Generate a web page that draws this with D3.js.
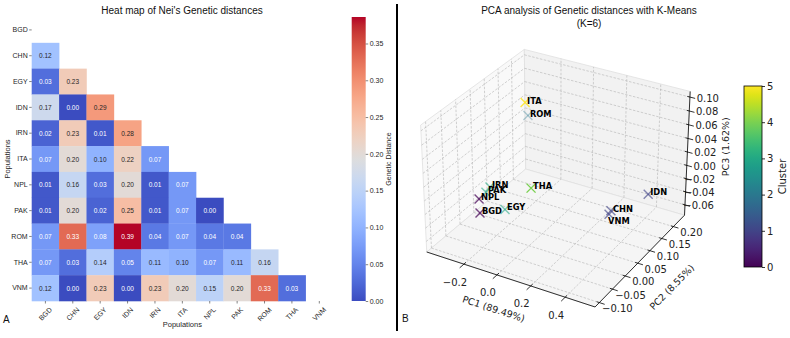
<!DOCTYPE html>
<html>
<head>
<meta charset="utf-8">
<script src="https://cdn.jsdelivr.net/npm/d3@7"></script>
<style>
  body { margin: 0; background: #fff; }
  svg { display: block; }
</style>
</head>
<body>
<svg id="chart" width="790" height="338"></svg>
<script>
// ---------------- data ----------------
const populations = ["BGD", "CHN", "EGY", "IDN", "IRN", "ITA", "NPL", "PAK", "ROM", "THA", "VNM"];

// lower triangle of Nei's distance matrix (row i holds columns 0..i-1)
const neiDistances = [
  [],
  [0.12],
  [0.03, 0.23],
  [0.17, 0.00, 0.29],
  [0.02, 0.23, 0.01, 0.28],
  [0.07, 0.20, 0.10, 0.22, 0.07],
  [0.01, 0.16, 0.03, 0.20, 0.01, 0.07],
  [0.01, 0.20, 0.02, 0.25, 0.01, 0.07, 0.00],
  [0.07, 0.33, 0.08, 0.386, 0.04, 0.07, 0.04, 0.04],
  [0.07, 0.03, 0.14, 0.05, 0.11, 0.10, 0.07, 0.11, 0.16],
  [0.12, 0.00, 0.23, 0.00, 0.23, 0.20, 0.15, 0.20, 0.33, 0.03]
];
const distTicks = [0, 0.05, 0.10, 0.15, 0.20, 0.25, 0.30, 0.35];

// PCA coordinates (same order as populations) and k-means cluster
const pc1 = [-0.227, 0.342, -0.158, 0.487, -0.255, -0.129, -0.250, -0.267, -0.234, 0.044, 0.337];
const pc2 = [-0.041, 0.096, 0.008, 0.146, 0.012, 0.069, -0.030, 0.004, 0.142, -0.017, 0.092];
const pc3 = [-0.029, -0.032, -0.036, -0.014, -0.011, 0.102, -0.014, -0.017, 0.054, 0.019, -0.036];
const clusters = [0, 1, 3, 1, 3, 5, 0, 3, 2, 4, 1];

const pc1Lim = [-0.43, 0.57], pc2Lim = [-0.116, 0.249], pc3Lim = [-0.076, 0.108];
const pc1Ticks = [-0.2, 0.0, 0.2, 0.4];
const pc2Ticks = [-0.10, -0.05, 0.00, 0.05, 0.10, 0.15, 0.20];
const pc3Ticks = [-0.06, -0.04, -0.02, 0.00, 0.02, 0.04, 0.06, 0.08, 0.10];
const clusterTicks = [0, 1, 2, 3, 4, 5];

// matplotlib "coolwarm" reference colours
const coolwarmStops = ["#3b4cc0","#445acc","#4d68d7","#5775e1","#6282ea","#6c8ef1","#779af7","#82a5fb",
  "#8db0fe","#98b9ff","#a3c2ff","#aec9fd","#b8d0f9","#c2d5f4","#ccd9ee","#d5dbe6","#dddddd",
  "#e5d8d1","#ecd3c5","#f1ccb9","#f5c4ad","#f7bba0","#f7b194","#f7a687","#f49a7b","#f18d6f",
  "#ec7f63","#e57058","#de604d","#d55042","#cb3e38","#c0282f","#b40426"];

// ---------------- setup ----------------
const SANS = "'Liberation Sans', Arial, sans-serif";
const MPL = "'DejaVu Sans', sans-serif";
const svg = d3.select('#chart');
svg.append('rect').attr('width', 790).attr('height', 338).attr('fill', '#fff');
const defs = svg.append('defs');

// ================= Panel A : heat map =================
const hm = {left: 31.7, right: 333, top: 17, bottom: 301};
const xBand = d3.scaleBand().domain(populations).range([hm.left, hm.right]);
const yBand = d3.scaleBand().domain(populations).range([hm.top, hm.bottom]);
const vmax = d3.max(neiDistances.flat());
const coolwarm = d3.scaleLinear()
    .domain(coolwarmStops.map((c, i) => i / (coolwarmStops.length - 1) * vmax))
    .range(coolwarmStops)
    .interpolate(d3.interpolateRgb)
    .clamp(true);

function luminance(c) {
  const rgb = d3.rgb(c);
  const f = x => { x /= 255; return x <= 0.03928 ? x / 12.92 : Math.pow((x + 0.055) / 1.055, 2.4); };
  return 0.2126 * f(rgb.r) + 0.7152 * f(rgb.g) + 0.0722 * f(rgb.b);
}

const cells = [];
neiDistances.forEach((row, i) => row.forEach((v, j) => cells.push({row: populations[i], col: populations[j], v})));

const heat = svg.append('g');
heat.selectAll('rect.cell')
  .data(cells)
  .join('rect')
    .attr('class', 'cell')
    .attr('x', d => xBand(d.col))
    .attr('y', d => yBand(d.row))
    .attr('width', xBand.bandwidth() + 0.3)
    .attr('height', yBand.bandwidth() + 0.3)
    .attr('fill', d => coolwarm(d.v));

heat.selectAll('text.annot')
  .data(cells)
  .join('text')
    .attr('class', 'annot')
    .attr('x', d => xBand(d.col) + xBand.bandwidth() / 2)
    .attr('y', d => yBand(d.row) + yBand.bandwidth() / 2)
    .attr('text-anchor', 'middle')
    .attr('dominant-baseline', 'central')
    .attr('font-family', SANS)
    .attr('font-size', 6.5)
    .attr('fill', d => luminance(coolwarm(d.v)) > 0.408 ? '#262626' : '#fff')
    .text(d => d.v.toFixed(2));

// y axis
const yAxisG = svg.append('g')
    .attr('transform', `translate(${hm.left},0)`)
    .call(d3.axisLeft(yBand).tickSize(2.5).tickPadding(1.5));
yAxisG.select('.domain').remove();
yAxisG.selectAll('line').attr('stroke', '#333').attr('stroke-width', 0.6);
yAxisG.selectAll('text').attr('font-family', SANS).attr('font-size', 7).attr('fill', '#262626');

// x axis with 45° labels
const xAxisG = svg.append('g')
    .attr('transform', `translate(0,${hm.bottom})`)
    .call(d3.axisBottom(xBand).tickSize(2.5));
xAxisG.select('.domain').remove();
xAxisG.selectAll('line').attr('stroke', '#333').attr('stroke-width', 0.6);
xAxisG.selectAll('text')
    .attr('font-family', SANS).attr('font-size', 7).attr('fill', '#262626')
    .attr('y', null).attr('dy', null)
    .attr('text-anchor', 'middle')
    .attr('dominant-baseline', 'central')
    .attr('transform', function() {
      const w = this.getComputedTextLength();
      return `translate(0,${5 + (w + 7) * 0.3536}) rotate(-45)`;
    });

svg.append('text')
    .attr('x', (hm.left + hm.right) / 2).attr('y', 327)
    .attr('text-anchor', 'middle')
    .attr('font-family', SANS).attr('font-size', 7.5).attr('fill', '#262626')
    .text('Populations');
svg.append('text')
    .attr('transform', `translate(10,${(hm.top + hm.bottom) / 2}) rotate(-90)`)
    .attr('text-anchor', 'middle')
    .attr('font-family', SANS).attr('font-size', 7.5).attr('fill', '#262626')
    .text('Populations');

svg.append('text')
    .attr('x', 182).attr('y', 14)
    .attr('text-anchor', 'middle')
    .attr('font-family', SANS).attr('font-size', 10).attr('fill', '#111')
    .text("Heat map of Nei's Genetic distances");

// colour bar
const cb = {x: 351.7, w: 14};
const cbScale = d3.scaleLinear().domain([0, vmax]).range([hm.bottom, hm.top]);
const cwGrad = defs.append('linearGradient').attr('id', 'cwGrad')
    .attr('x1', 0).attr('y1', 1).attr('x2', 0).attr('y2', 0);
coolwarmStops.forEach((c, i) => cwGrad.append('stop')
    .attr('offset', i / (coolwarmStops.length - 1)).attr('stop-color', c));
svg.append('rect')
    .attr('x', cb.x).attr('y', hm.top)
    .attr('width', cb.w).attr('height', hm.bottom - hm.top)
    .attr('fill', 'url(#cwGrad)');
const cbAxis = svg.append('g')
    .attr('transform', `translate(${cb.x + cb.w},0)`)
    .call(d3.axisRight(cbScale).tickValues(distTicks).tickFormat(d3.format('.2f')).tickSize(2.5).tickPadding(1.5));
cbAxis.select('.domain').remove();
cbAxis.selectAll('line').attr('stroke', '#333').attr('stroke-width', 0.6);
cbAxis.selectAll('text').attr('font-family', SANS).attr('font-size', 7).attr('fill', '#262626');
svg.append('text')
    .attr('transform', `translate(391,${(hm.top + hm.bottom) / 2}) rotate(-90)`)
    .attr('text-anchor', 'middle')
    .attr('font-family', SANS).attr('font-size', 7).attr('fill', '#262626')
    .text('Genetic Distance');

// panel letters and separator
svg.append('text').attr('x', 3).attr('y', 323)
    .attr('font-family', SANS).attr('font-size', 10).attr('fill', '#111').text('A');
svg.append('text').attr('x', 402).attr('y', 322)
    .attr('font-family', SANS).attr('font-size', 10).attr('fill', '#111').text('B');
svg.append('line').attr('x1', 397).attr('x2', 397).attr('y1', 4).attr('y2', 331)
    .attr('stroke', '#000').attr('stroke-width', 2);

// ================= Panel B : 3-D PCA scatter =================
const view = {elev: 30, azim: -60, dist: 10, K: 1620, cx: 558, cy: 172};
const boxAspect = [4, 4, 3].map(v => v * 0.2976);
const xs3 = d3.scaleLinear().domain(pc1Lim).range([-boxAspect[0] / 2, boxAspect[0] / 2]);
const ys3 = d3.scaleLinear().domain(pc2Lim).range([-boxAspect[1] / 2, boxAspect[1] / 2]);
const zs3 = d3.scaleLinear().domain(pc3Lim).range([-boxAspect[2] / 2, boxAspect[2] / 2]);

const el = view.elev * Math.PI / 180, az = view.azim * Math.PI / 180;
const wv = [Math.cos(el) * Math.cos(az), Math.cos(el) * Math.sin(az), Math.sin(el)];
const uv = [-Math.sin(az), Math.cos(az), 0];
const vv = [-Math.sin(el) * Math.cos(az), -Math.sin(el) * Math.sin(az), Math.cos(el)];
const dot = (a, b) => a[0] * b[0] + a[1] * b[1] + a[2] * b[2];

function project(x, y, z) {
  const p = [xs3(x), ys3(y), zs3(z)];
  const D = view.dist - dot(p, wv);
  return [view.cx + view.K * dot(p, uv) / D, view.cy - view.K * dot(p, vv) / D, D];
}
const line3 = d3.line();
const path3 = pts => line3(pts.map(p => project(...p)));

const [x0, x1] = pc1Lim, [y0, y1] = pc2Lim, [z0, z1] = pc3Lim;
const scatter = svg.append('g');

// panes
const panes = [
  {pts: [[x0, y0, z0], [x0, y1, z0], [x0, y1, z1], [x0, y0, z1]], fill: '#f9f9f9'},
  {pts: [[x0, y1, z0], [x1, y1, z0], [x1, y1, z1], [x0, y1, z1]], fill: '#f2f2f2'},
  {pts: [[x0, y0, z0], [x1, y0, z0], [x1, y1, z0], [x0, y1, z0]], fill: '#f5f5f5'}
];
scatter.selectAll('path.pane')
  .data(panes)
  .join('path')
    .attr('class', 'pane')
    .attr('d', d => path3(d.pts) + 'Z')
    .attr('fill', d => d.fill)
    .attr('stroke', '#e0e0e0')
    .attr('stroke-width', 0.8);

// grid lines
const grid = [];
pc1Ticks.forEach(t => {
  grid.push([[t, y1, z0], [t, y1, z1]]);
  grid.push([[t, y0, z0], [t, y1, z0]]);
});
pc2Ticks.forEach(t => {
  grid.push([[x0, t, z0], [x0, t, z1]]);
  grid.push([[x0, t, z0], [x1, t, z0]]);
});
pc3Ticks.forEach(t => {
  grid.push([[x0, y0, t], [x0, y1, t]]);
  grid.push([[x0, y1, t], [x1, y1, t]]);
});
scatter.selectAll('path.grid')
  .data(grid)
  .join('path')
    .attr('class', 'grid')
    .attr('d', path3)
    .attr('fill', 'none')
    .attr('stroke', '#b8b8b8')
    .attr('stroke-width', 0.65)
    .attr('stroke-dasharray', '2.5,1.5');

// axis lines
const axisLines = [
  [[x0, y0, z0], [x1, y0, z0]],
  [[x1, y0, z0], [x1, y1, z0]],
  [[x1, y1, z0], [x1, y1, z1]]
];
scatter.selectAll('path.axis3')
  .data(axisLines)
  .join('path')
    .attr('class', 'axis3')
    .attr('d', path3)
    .attr('stroke', '#000')
    .attr('stroke-width', 0.8);

// ticks
const xr = x1 - x0, yr = y1 - y0;
const ticks3 = [];
pc1Ticks.forEach(t => ticks3.push([[t, y0 + 0.02 * yr, z0], [t, y0 - 0.04 * yr, z0]]));
pc2Ticks.forEach(t => ticks3.push([[x1 - 0.015 * xr, t, z0], [x1 + 0.03 * xr, t, z0]]));
pc3Ticks.forEach(t => ticks3.push([[x1 - 0.015 * xr, y1, t], [x1 + 0.03 * xr, y1, t]]));
scatter.selectAll('path.tick3')
  .data(ticks3)
  .join('path')
    .attr('class', 'tick3')
    .attr('d', path3)
    .attr('stroke', '#000')
    .attr('stroke-width', 0.8);

// tick labels
const fmt1 = d3.format('.1f'), fmt2 = d3.format('.2f');
scatter.selectAll('text.xtick')
  .data(pc1Ticks)
  .join('text')
    .attr('class', 'xtick')
    .attr('x', d => project(d, y0, z0)[0] - 9)
    .attr('y', d => project(d, y0, z0)[1] + 18)
    .attr('text-anchor', 'middle').attr('dominant-baseline', 'central')
    .attr('font-family', MPL).attr('font-size', 10).attr('fill', '#222')
    .text(fmt1);
scatter.selectAll('text.ytick')
  .data(pc2Ticks)
  .join('text')
    .attr('class', 'ytick')
    .attr('x', d => project(x1, d, z0)[0] + 18)
    .attr('y', d => project(x1, d, z0)[1] + 6)
    .attr('text-anchor', 'middle').attr('dominant-baseline', 'central')
    .attr('font-family', MPL).attr('font-size', 10).attr('fill', '#222')
    .text(fmt2);
scatter.selectAll('text.ztick')
  .data(pc3Ticks)
  .join('text')
    .attr('class', 'ztick')
    .attr('x', d => project(x1, y1, d)[0] + 29)
    .attr('y', d => project(x1, y1, d)[1] + 1)
    .attr('text-anchor', 'end').attr('dominant-baseline', 'central')
    .attr('font-family', MPL).attr('font-size', 10).attr('fill', '#222')
    .text(fmt2);

// axis titles
const pxMid = project((x0 + x1) / 2, y0, z0);
scatter.append('text')
    .attr('transform', `translate(${pxMid[0] - 15},${pxMid[1] + 30}) rotate(18)`)
    .attr('text-anchor', 'middle').attr('dominant-baseline', 'central')
    .attr('font-family', MPL).attr('font-size', 9.5).attr('fill', '#222')
    .text('PC1 (89.49%)');
const pyMid = project(x1, (y0 + y1) / 2, z0);
scatter.append('text')
    .attr('transform', `translate(${pyMid[0] + 30},${pyMid[1] + 28}) rotate(-45.6)`)
    .attr('text-anchor', 'middle').attr('dominant-baseline', 'central')
    .attr('font-family', MPL).attr('font-size', 9.5).attr('fill', '#222')
    .text('PC2 (8.55%)');
const pzMid = project(x1, y1, (z0 + z1) / 2);
scatter.append('text')
    .attr('transform', `translate(${pzMid[0] + 38},${pzMid[1] - 8}) rotate(-90)`)
    .attr('text-anchor', 'middle').attr('dominant-baseline', 'central')
    .attr('font-family', MPL).attr('font-size', 9.5).attr('fill', '#222')
    .text('PC3 (1.62%)');

// points with matplotlib style depth shading
const points = populations.map((name, i) => {
  const pr = project(pc1[i], pc2[i], pc3[i]);
  return {name, cluster: clusters[i], sx: pr[0], sy: pr[1], depth: pr[2]};
});
const depthExtent = d3.extent(points, d => d.depth);
const shade = d3.scaleLinear().domain(depthExtent).range([1, 0.35]);
const clusterColor = c => d3.interpolateViridis(c / 5);

const marks = scatter.selectAll('g.pt')
  .data(points.slice().sort((a, b) => b.depth - a.depth))
  .join('g')
    .attr('class', 'pt')
    .attr('transform', d => `translate(${d.sx},${d.sy})`)
    .attr('stroke', d => clusterColor(d.cluster))
    .attr('stroke-opacity', d => shade(d.depth))
    .attr('stroke-width', 1.4);
marks.append('line').attr('x1', -4.5).attr('y1', -4.5).attr('x2', 4.5).attr('y2', 4.5);
marks.append('line').attr('x1', -4.5).attr('y1', 4.5).attr('x2', 4.5).attr('y2', -4.5);

const labelNudge = {VNM: [-3, 9]};
scatter.selectAll('text.plabel')
  .data(points)
  .join('text')
    .attr('class', 'plabel')
    .attr('x', d => d.sx + 2 + (labelNudge[d.name] ? labelNudge[d.name][0] : 0))
    .attr('y', d => d.sy + 1 + (labelNudge[d.name] ? labelNudge[d.name][1] : 0))
    .attr('font-family', MPL).attr('font-size', 8.3).attr('font-weight', 'bold').attr('fill', '#000')
    .text(d => d.name);

// titles
svg.append('text')
    .attr('x', 589).attr('y', 14)
    .attr('text-anchor', 'middle')
    .attr('font-family', SANS).attr('font-size', 10).attr('fill', '#111')
    .text('PCA analysis of Genetic distances with K-Means');
svg.append('text')
    .attr('x', 589).attr('y', 27)
    .attr('text-anchor', 'middle')
    .attr('font-family', SANS).attr('font-size', 10).attr('fill', '#111')
    .text('(K=6)');

// cluster colour bar
const ccb = {x: 744, w: 18, top: 86, bottom: 267};
const clusterScale = d3.scaleLinear().domain([0, 5]).range([ccb.bottom, ccb.top]);
const vGrad = defs.append('linearGradient').attr('id', 'vGrad')
    .attr('x1', 0).attr('y1', 1).attr('x2', 0).attr('y2', 0);
d3.range(0, 1.0001, 0.05).forEach(t => vGrad.append('stop')
    .attr('offset', t).attr('stop-color', d3.interpolateViridis(t)));
svg.append('rect')
    .attr('x', ccb.x).attr('y', ccb.top)
    .attr('width', ccb.w).attr('height', ccb.bottom - ccb.top)
    .attr('fill', 'url(#vGrad)')
    .attr('stroke', '#000').attr('stroke-width', 0.8);
const ccbAxis = svg.append('g')
    .attr('transform', `translate(${ccb.x + ccb.w},0)`)
    .call(d3.axisRight(clusterScale).tickValues(clusterTicks).tickFormat(d3.format('d')).tickSize(3).tickPadding(2));
ccbAxis.select('.domain').remove();
ccbAxis.selectAll('line').attr('stroke', '#000').attr('stroke-width', 0.8);
ccbAxis.selectAll('text').attr('font-family', MPL).attr('font-size', 10).attr('fill', '#222');
svg.append('text')
    .attr('transform', `translate(782,${(ccb.top + ccb.bottom) / 2}) rotate(-90)`)
    .attr('text-anchor', 'middle').attr('dominant-baseline', 'central')
    .attr('font-family', MPL).attr('font-size', 10).attr('fill', '#222')
    .text('Cluster');
</script>
</body>
</html>
